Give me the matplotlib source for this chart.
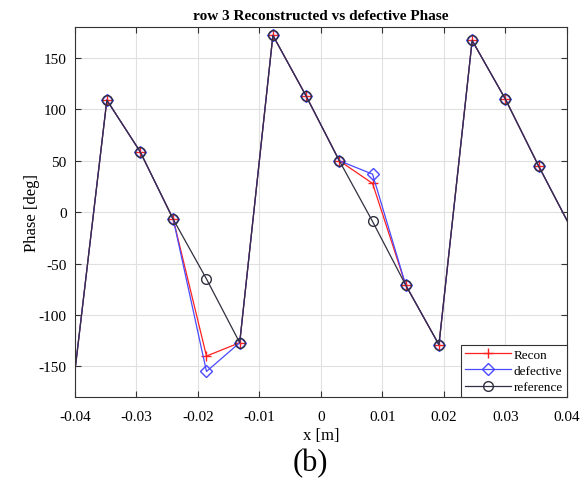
import numpy as np
import matplotlib
matplotlib.use("Agg")
import matplotlib.pyplot as plt

plt.rcParams["font.family"] = ["Liberation Serif", "DejaVu Serif"]
plt.rcParams["axes.unicode_minus"] = False

# sample positions along row 3 (one point before the visible range, one after)
x = [-0.0402, -0.0348, -0.0294, -0.024, -0.0186, -0.0132, -0.0078, -0.0024,
     0.003, 0.0084, 0.0138, 0.0192, 0.0246, 0.030, 0.0354, 0.0408]
reference = [-165, 109, 59, -7, -65, -127, 172, 113, 50, -9, -71, -129, 167, 110, 45, -17]
recon     = [-165, 109, 59, -7, -140, -127, 172, 113, 50, 28, -71, -129, 167, 110, 45, -17]
defective = [-165, 109, 59, -7, -155, -127, 172, 113, 50, 37, -71, -129, 167, 110, 45, -17]

fig = plt.figure(figsize=(5.85, 4.85), dpi=100)
ax = fig.add_axes([0.128, 0.179, 0.841, 0.763])

mk = slice(1, -1)  # end points lie outside the axes
ax.plot(x, recon, color="#ff2020", marker="+", ms=7, lw=0.9, markevery=mk,
        label="Recon")
ax.plot(x, defective, color="#4a4aff", marker="D", ms=6, mfc="none", lw=0.9,
        markevery=mk, label="defective")
ax.plot(x, reference, color="#303040", marker="o", ms=7, mfc="none", lw=0.9,
        markevery=mk, label="reference")

ax.set_xlim(-0.04, 0.04)
ax.set_ylim(-180, 180)
ax.set_xticks(np.arange(-0.04, 0.041, 0.01))
ax.set_xticklabels(["-0.04", "-0.03", "-0.02", "-0.01", "0", "0.01", "0.02", "0.03", "0.04"])
ax.set_yticks(np.arange(-150, 151, 50))
ax.grid(True, color="#e0e0e0", lw=0.8)
ax.set_axisbelow(True)
ax.tick_params(direction="in", top=True, right=True, labelsize=11, length=4,
               color="#333333")
ax.tick_params(axis="x", pad=9)
ax.tick_params(axis="y", pad=6)
for s in ax.spines.values():
    s.set_color("#333333")
    s.set_linewidth(0.8)

ax.set_title("row 3 Reconstructed vs defective Phase", fontsize=11,
             fontweight="bold", pad=6)
ax.set_xlabel("x [m]", fontsize=12, labelpad=3)
ax.set_ylabel("Phase [deg]", fontsize=12, labelpad=-1)

leg = ax.legend(loc="lower right", fontsize=9.5, handlelength=3.5,
                fancybox=False, borderaxespad=0, framealpha=1,
                edgecolor="#333333", borderpad=0.3, labelspacing=0.3,
                handletextpad=0.2)
leg.get_frame().set_linewidth(0.8)

fig.text(0.53, 0.045, "(b)", ha="center", va="center", fontsize=22)

fig.savefig("out.png", dpi=100)
